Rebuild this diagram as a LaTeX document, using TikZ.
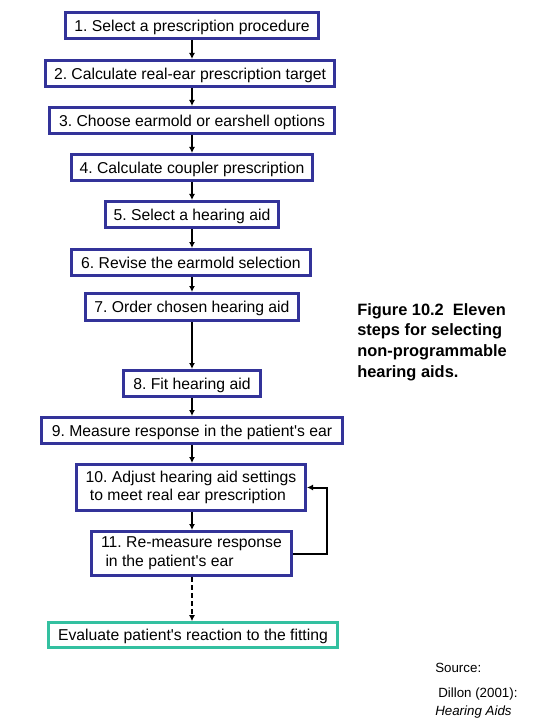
\documentclass[tikz,border=0pt]{standalone}
\usepackage{fontspec}
\setmainfont{Liberation Sans}
\usetikzlibrary{arrows.meta}
\definecolor{boxblue}{RGB}{51,51,153}
\definecolor{evalteal}{RGB}{51,192,160}
\tikzset{
  stepbox/.style={draw=boxblue, line width=2.25pt, fill=white, inner sep=0pt,
    minimum height=19.5pt, font=\fontsize{11.8pt}{14pt}\selectfont, align=center},
  onebox/.style={stepbox, text height=10pt, text depth=1.5pt},
  evalbox/.style={onebox, draw=evalteal, line width=2pt, minimum height=18.75pt},
  flow/.style={line width=1.5pt, -{Latex[length=4.5pt,width=4.5pt]}},
  dflow/.style={flow, dash pattern=on 3.5pt off 2.5pt},
  captext/.style={inner sep=0pt, align=left, font=\bfseries\fontsize{12.3pt}{15.5pt}\selectfont},
  srctext/.style={inner sep=0pt, anchor=base west, font=\fontsize{10pt}{12pt}\selectfont}
}
\begin{document}
\frenchspacing
\begin{tikzpicture}[x=0.75pt,y=-0.75pt]
\useasboundingbox (0,0) rectangle (540,720);
\node[onebox, minimum width=189.75pt] (b1) at (192,25.5) {1. Select a prescription procedure};
\node[onebox, minimum width=216.75pt] (b2) at (190,73.5) {2. Calculate real-ear prescription target};
\node[onebox, minimum width=213.75pt] (b3) at (192,120.5) {3. Choose earmold or earshell options};
\node[onebox, minimum width=180.75pt] (b4) at (192,167.5) {4. Calculate coupler prescription};
\node[onebox, minimum width=129.75pt] (b5) at (192,214.5) {5. Select a hearing aid};
\node[onebox, minimum width=179.25pt] (b6) at (191,262.5) {6. Revise the earmold selection};
\node[onebox, minimum width=159.75pt, minimum height=20.25pt] (b7) at (192,307) {7. Order chosen hearing aid};
\node[onebox, minimum width=102.75pt] (b8) at (192,383.5) {8. Fit hearing aid};
\node[onebox, minimum width=225.75pt] (b9) at (192,430.5) {9. Measure response in the patient\textquotesingle s ear};
\node[stepbox, minimum width=171.75pt, minimum height=34.5pt, align=left] (b10) at (191,487.5) {10. Adjust hearing aid settings\\\ to meet real ear prescription};
\node[stepbox, minimum width=150pt, minimum height=33pt, align=left] (b11) at (191.5,553.5) {11. Re-measure response\\\ in the patient\textquotesingle s ear};
\node[evalbox, minimum width=216.75pt] (ev) at (193,635) {Evaluate patient\textquotesingle s reaction to the fitting};

\draw[flow] (b1.south -| 192,0) -- (b2.north -| 192,0);
\draw[flow] (b2.south -| 192,0) -- (b3.north -| 192,0);
\draw[flow] (b3.south -| 192,0) -- (b4.north -| 192,0);
\draw[flow] (b4.south -| 192,0) -- (b5.north -| 192,0);
\draw[flow] (b5.south -| 192,0) -- (b6.north -| 192,0);
\draw[flow] (b6.south -| 192,0) -- (b7.north -| 192,0);
\draw[flow] (b7.south -| 192,0) -- (b8.north -| 192,0);
\draw[flow] (b8.south -| 192,0) -- (b9.north -| 192,0);
\draw[flow] (b9.south -| 192,0) -- (b10.north -| 192,0);
\draw[flow] (b10.south -| 192,0) -- (b11.north -| 192,0);
\draw[dflow] (b11.south -| 192,0) -- (ev.north -| 192,0);
\draw[flow] (b11.east) -- ++(33.5,0) |- (b10.east);

\node[captext, anchor=north west] (cap) at (357,303) {Figure 10.2\ \ Eleven\\steps for selecting\\non-programmable\\hearing aids.};

\node[srctext] (s1) at (435,672) {Source:};
\node[srctext] (s2) at (438,697) {Dillon (2001):};
\node[srctext, font=\itshape\fontsize{10pt}{12pt}\selectfont] (s3) at (435,715) {Hearing Aids};
\end{tikzpicture}
\end{document}
